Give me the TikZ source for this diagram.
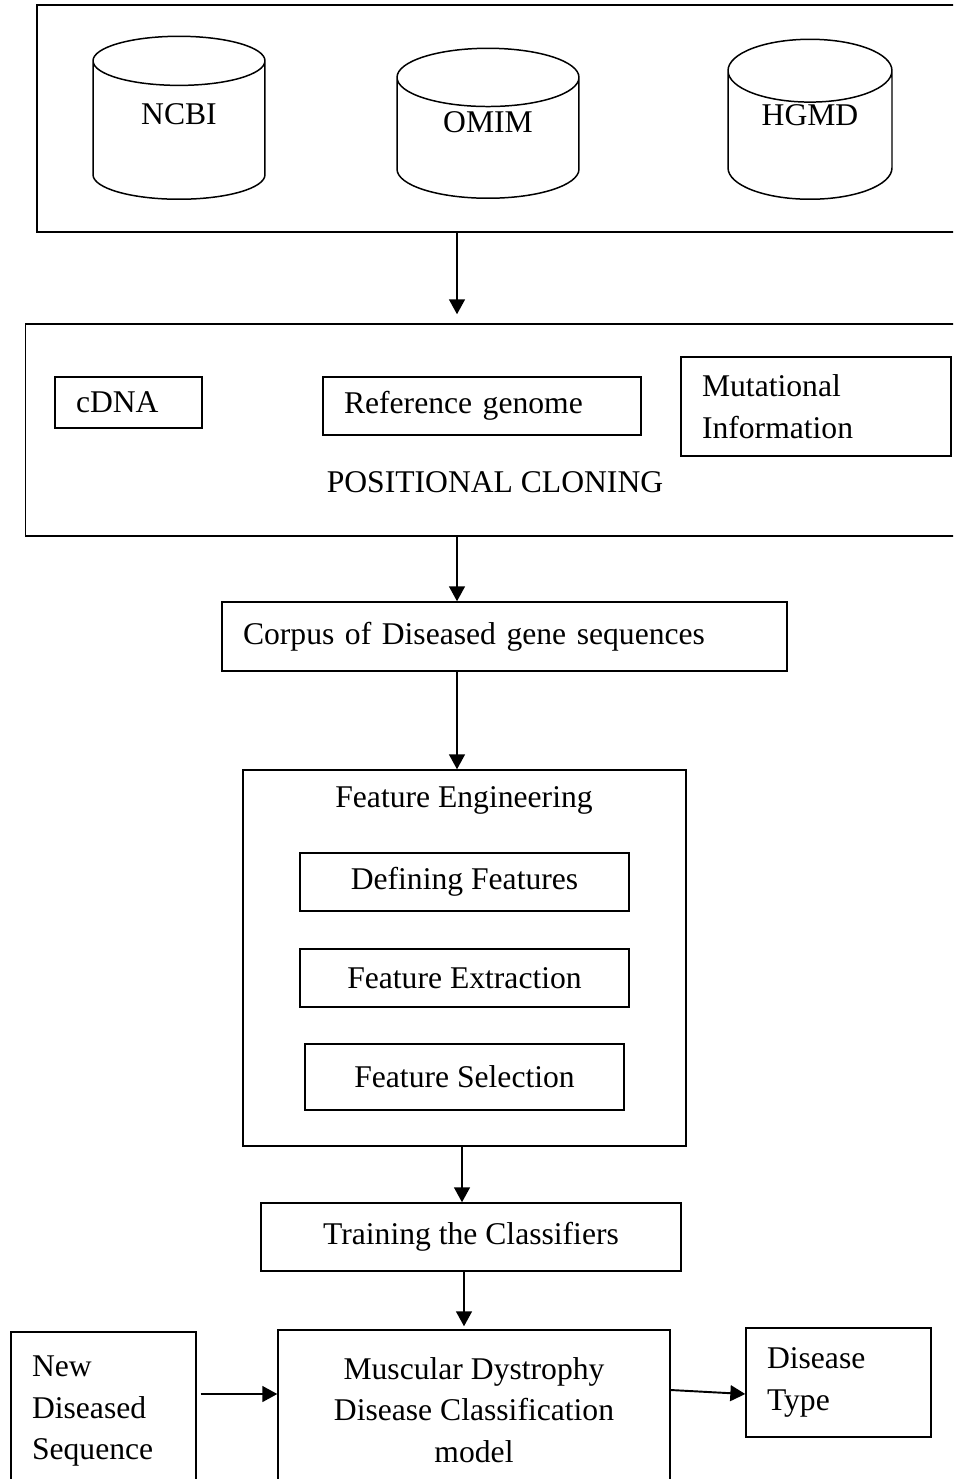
\documentclass[tikz,border=0pt]{standalone}
\usepackage{fontspec}
\setmainfont{Liberation Serif}
\usetikzlibrary{shapes.geometric,arrows.meta,positioning,calc}

\begin{document}
\begin{tikzpicture}[
    x=0.02cm, y=-0.02cm,
    font=\fontsize{18}{23.8}\selectfont,
    box/.style={rectangle, draw, line width=0.85pt, inner sep=0pt},
    tbox/.style={box, align=left, inner xsep=0.42cm},
    db/.style={cylinder, shape border rotate=90, draw, line width=0.85pt, aspect=0.65, inner sep=0pt, anchor=south, text depth=0.64cm},
    arrow/.style={-{Triangle[width=9pt,length=8.5pt]}, line width=1.1pt}
]
\useasboundingbox (0,0) rectangle (953,1479);
\clip (0,0) rectangle (953,1479);

% Data sources
\node[box, minimum width=18.76cm, minimum height=4.54cm] (sources) at (506,118.5) {};
\node[db, minimum width=3.44cm, minimum height=3.26cm] (ncbi) at (179,200) {NCBI};
\node[db, minimum width=3.64cm, minimum height=3.0cm] (omim) at (488,199) {OMIM};
\node[db, minimum width=3.28cm, minimum height=3.2cm, text depth=0.8cm] (hgmd) at (810,200) {HGMD};

% Positional cloning
\node[box, minimum width=18.98cm, minimum height=4.24cm] (cloning) at (500,430) {};
\node[tbox, text width=2.1cm, minimum height=1.02cm] (cdna) at (128.5,402.5) {cDNA};
\node[tbox, text width=5.52cm, minimum height=1.16cm] (refgen) at (482,406) {Reference genome};
\node[tbox, text width=4.56cm, minimum height=1.98cm] (mutinfo) at (816,406.5) {Mutational\\Information};
\node (poscl) at (495,482) {POSITIONAL CLONING};

% Corpus
\node[tbox, text width=10.46cm, minimum height=1.38cm] (corpus) at (504.5,636.5) {Corpus of Diseased gene sequences};

% Feature engineering
\node[box, minimum width=8.86cm, minimum height=7.52cm] (feng) at (464.5,958) {};
\node (fengtitle) at (464,800) {Feature Engineering};
\node[box, minimum width=6.58cm, minimum height=1.16cm] (deffeat) at (464.5,882) {Defining Features};
\node[box, minimum width=6.58cm, minimum height=1.16cm] (featext) at (464.5,978) {Feature Extraction};
\node[box, minimum width=6.38cm, minimum height=1.32cm] (featsel) at (464.5,1077) {Feature Selection};

% Classification
\node[box, minimum width=8.4cm, minimum height=1.36cm] (train) at (471,1237) {Training the Classifiers};
\node[box, align=center, minimum width=7.84cm, minimum height=3.2cm] (model) at (474,1410) {Muscular Dystrophy\\Disease Classification\\model};
\node[tbox, text width=2.86cm, minimum height=3.16cm] (newseq) at (103.5,1411) {New\\Diseased\\Sequence};
\node[tbox, text width=2.86cm, minimum height=2.18cm] (dtype) at (838.5,1382.5) {Disease\\Type};

% Arrows
\coordinate (col) at (457,0);
\coordinate (col2) at (462,0);
\coordinate (col3) at (464,0);
\coordinate (row) at (0,1394);
\coordinate (row2) at (0,1390);
\draw[arrow, shorten >=0.18cm] (sources.south -| col) -- (cloning.north -| col);
\draw[arrow] (cloning.south -| col) -- (corpus.north -| col);
\draw[arrow] (corpus.south -| col) -- (feng.north -| col);
\draw[arrow] (feng.south -| col2) -- (train.north -| col2);
\draw[arrow, shorten >=0.06cm] (train.south -| col3) -- (model.north -| col3);
\draw[arrow, shorten <=0.08cm] (newseq.east |- row) -- (model.west |- row);
\draw[arrow] (model.east |- row2) -- (dtype.west |- row);

\end{tikzpicture}
\end{document}
